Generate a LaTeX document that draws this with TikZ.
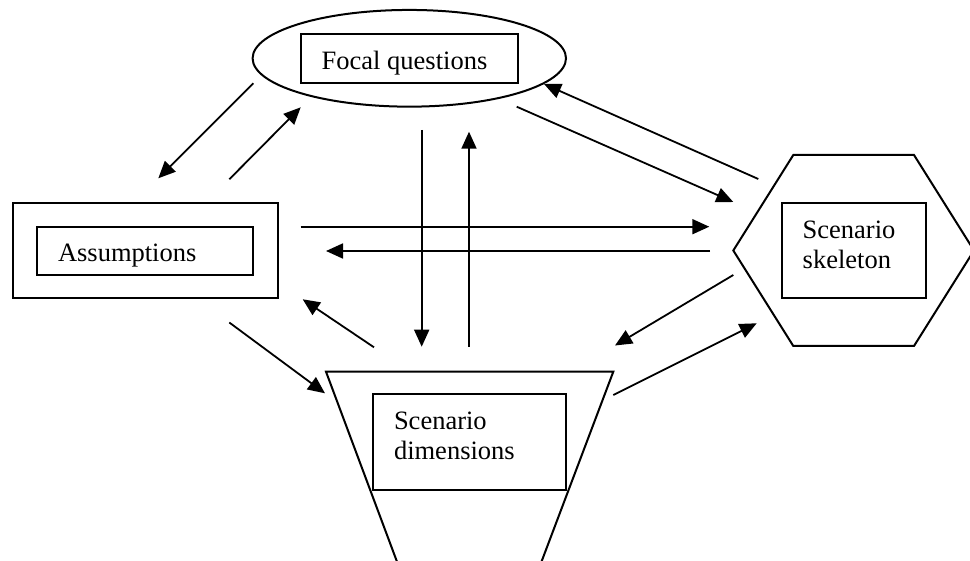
\documentclass[tikz,border=0pt]{standalone}
\usepackage{fontspec}
\setmainfont{Liberation Serif}
\usetikzlibrary{shapes.geometric,arrows.meta}
\begin{document}
\begin{tikzpicture}[x=1pt,y=-1pt,
  shapeline/.style={draw=black,line width=2pt},
  boxnode/.style={shapeline,rectangle,inner sep=0pt,outer sep=0pt},
  lbl/.style={inner sep=0pt,outer sep=0pt,anchor=base west,font=\fontsize{26.5}{30}\selectfont},
  conn/.style={line width=1.8pt,-{Triangle[length=17pt,width=15pt]}}]
\clip (0,0) rectangle (970,561);
\fill[white] (0,0) rectangle (970,561);
% Focal questions
\node[shapeline,ellipse,inner sep=0pt,minimum width=313.4pt,minimum height=96.7pt] (fq) at (409.3,58.3) {};
\node[boxnode,minimum width=217pt,minimum height=48.4pt] (fqbox) at (409.2,58.5) {};
\node[lbl] (fqtext) at (321.7,70) {Focal questions};
% Assumptions
\node[boxnode,minimum width=265pt,minimum height=95.6pt] (as) at (145.2,250.5) {};
\node[boxnode,minimum width=216.6pt,minimum height=48.3pt] (asbox) at (145,250.85) {};
\node[lbl] (astext) at (58,262) {Assumptions};
% Scenario skeleton
\draw[shapeline,line join=miter] (733.3,250.5) -- (793.3,155) -- (914,155) -- (974,250.5) -- (914,346) -- (793.3,346) -- cycle;
\coordinate (sk) at (853.7,250.5);
\node[boxnode,minimum width=144.3pt,minimum height=95.6pt] (skbox) at (853.85,250.5) {};
\node[lbl] (sktext1) at (802.7,238.3) {Scenario};
\node[lbl] (sktext2) at (802.7,268.3) {skeleton};
% Scenario dimensions
\draw[shapeline,line join=miter] (326,371.7) -- (613.3,371.7) -- (527,600) -- (411.3,600) -- cycle;
\coordinate (sd) at (469.7,460);
\node[boxnode,minimum width=192.7pt,minimum height=95.7pt] (sdbox) at (469.65,442.15) {};
\node[lbl] (sdtext1) at (394,430) {Scenario};
\node[lbl] (sdtext2) at (394,460) {dimensions};
% connector end points
\coordinate (fqA1) at (253.3,83.3);   \coordinate (asF1) at (158.3,178.3);
\coordinate (asF2) at (229.3,179.3);  \coordinate (fqA2) at (300.7,107.3);
\coordinate (fqS1) at (516.7,106.7);  \coordinate (skF1) at (733.3,202);
\coordinate (skF2) at (758.3,179);    \coordinate (fqS2) at (544,84);
\coordinate (asS1) at (300.7,226.7);  \coordinate (skA1) at (709.3,226.7);
\coordinate (skA2) at (710,251);      \coordinate (asS2) at (326,251);
\coordinate (fqD1) at (421.7,130);    \coordinate (sdF1) at (421.7,346.7);
\coordinate (sdF2) at (469,346.7);    \coordinate (fqD2) at (469,131.7);
\coordinate (asD1) at (229.3,322.5);  \coordinate (sdA1) at (325,393.3);
\coordinate (sdA2) at (374,347.3);    \coordinate (asD2) at (302.7,299.3);
\coordinate (skD1) at (733.3,275);    \coordinate (sdS1) at (615,345.5);
\coordinate (sdS2) at (613.3,395);    \coordinate (skD2) at (756.7,323.3);
% connectors
\draw[conn] (fqA1) -- (asF1);
\draw[conn] (asF2) -- (fqA2);
\draw[conn] (fqS1) -- (skF1);
\draw[conn] (skF2) -- (fqS2);
\draw[conn] (asS1) -- (skA1);
\draw[conn] (skA2) -- (asS2);
\draw[conn] (fqD1) -- (sdF1);
\draw[conn] (sdF2) -- (fqD2);
\draw[conn] (asD1) -- (sdA1);
\draw[conn] (sdA2) -- (asD2);
\draw[conn] (skD1) -- (sdS1);
\draw[conn] (sdS2) -- (skD2);
\end{tikzpicture}
\end{document}
